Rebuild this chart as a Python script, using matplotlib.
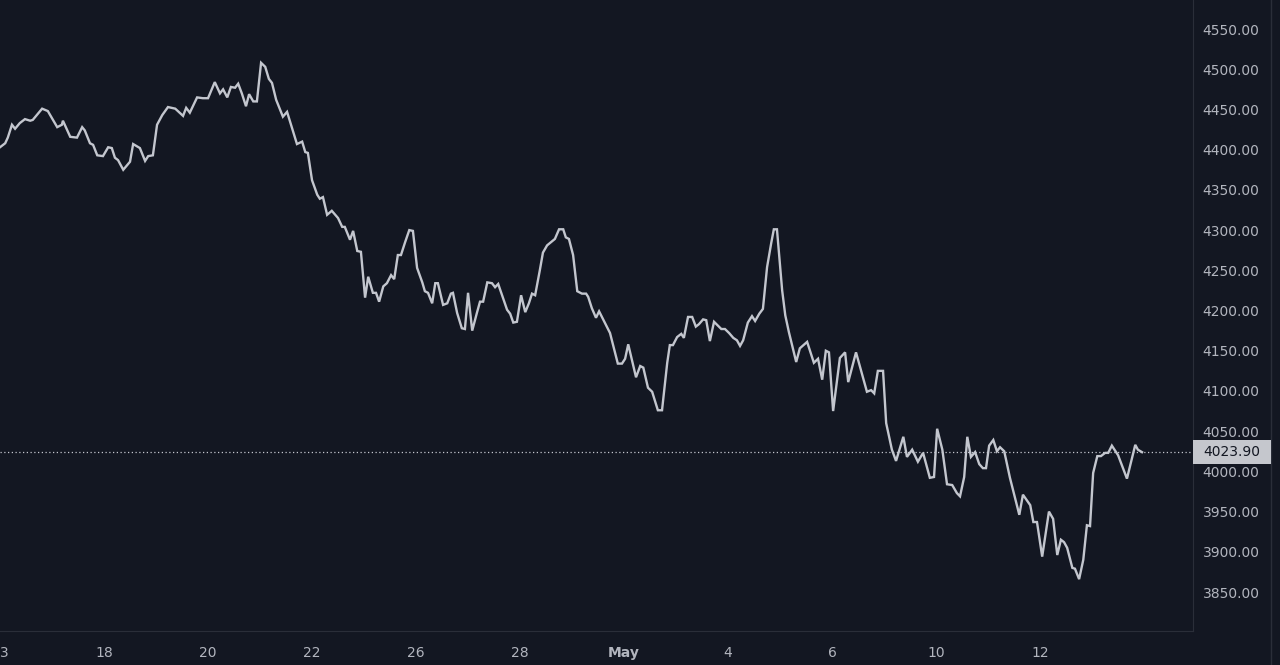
import matplotlib
matplotlib.use("Agg")
import matplotlib.pyplot as plt
from matplotlib.patches import Rectangle
from matplotlib.lines import Line2D

# Price series (trading-day position, price). Day 0 = Apr 13.
day = [
    0.00, 0.10, 0.15, 0.23, 0.29, 0.38, 0.48, 0.58, 0.63, 0.81, 0.92, 1.10, 1.19, 1.21, 1.35, 1.48,
    1.58, 1.63, 1.73, 1.79, 1.87, 1.98, 2.08, 2.15, 2.21, 2.27, 2.37, 2.50, 2.56, 2.69, 2.79, 2.85,
    2.94, 3.02, 3.12, 3.23, 3.37, 3.42, 3.52, 3.58, 3.65, 3.79, 3.90, 4.00, 4.13, 4.23, 4.29, 4.37,
    4.44, 4.52, 4.58, 4.65, 4.73, 4.79, 4.87, 4.94, 5.02, 5.10, 5.17, 5.23, 5.31, 5.44, 5.52, 5.63,
    5.71, 5.81, 5.87, 5.92, 6.00, 6.10, 6.15, 6.21, 6.29, 6.38, 6.50, 6.58, 6.63, 6.73, 6.79, 6.87,
    6.94, 7.02, 7.08, 7.17, 7.23, 7.29, 7.37, 7.44, 7.52, 7.58, 7.65, 7.71, 7.79, 7.87, 7.94, 8.02,
    8.12, 8.17, 8.23, 8.31, 8.37, 8.42, 8.52, 8.60, 8.67, 8.71, 8.79, 8.88, 8.94, 9.00, 9.08, 9.17,
    9.23, 9.29, 9.37, 9.46, 9.52, 9.58, 9.75, 9.81, 9.87, 9.94, 10.02, 10.10, 10.17, 10.23, 10.29,
    10.38, 10.44, 10.52, 10.67, 10.75, 10.83, 10.88, 10.94, 11.02, 11.10, 11.19, 11.27, 11.31, 11.38,
    11.46, 11.52, 11.73, 11.88, 11.96, 12.02, 12.08, 12.23, 12.31, 12.37, 12.46, 12.54, 12.65, 12.73,
    12.83, 12.88, 12.94, 13.02, 13.10, 13.15, 13.23, 13.31, 13.38, 13.44, 13.52, 13.58, 13.65, 13.73,
    13.87, 13.94, 14.02, 14.10, 14.17, 14.23, 14.29, 14.38, 14.46, 14.52, 14.60, 14.67, 14.75, 14.83,
    14.88, 14.94, 15.04, 15.10, 15.17, 15.31, 15.38, 15.52, 15.65, 15.73, 15.81, 15.88, 15.94, 16.02,
    16.15, 16.25, 16.31, 16.46, 16.67, 16.75, 16.81, 16.88, 16.98, 17.04, 17.15, 17.23, 17.37, 17.44,
    17.54, 17.65, 17.75, 17.88, 17.96, 18.02, 18.12, 18.21, 18.31, 18.40, 18.46, 18.54, 18.60, 18.67,
    18.75, 18.83, 18.90, 18.96, 19.02, 19.10, 19.17, 19.23, 19.31, 19.42, 19.60, 19.67, 19.81, 19.87,
    19.94, 20.04, 20.17, 20.25, 20.33, 20.40, 20.46, 20.52, 20.62, 20.67, 20.75, 20.83, 20.90, 20.96,
    21.02, 21.10, 21.17, 21.25, 21.31, 21.38, 21.50, 21.67, 21.83, 21.88, 21.96,
]
price = [
    4403, 4408, 4415, 4431, 4426, 4433, 4438, 4436, 4437, 4451, 4448, 4428, 4431, 4436, 4416, 4415,
    4428, 4424, 4408, 4406, 4393, 4392, 4403, 4402, 4390, 4387, 4375, 4385, 4407, 4402, 4386, 4392,
    4393, 4431, 4443, 4453, 4451, 4448, 4442, 4452, 4446, 4465, 4464, 4464, 4484, 4470, 4475, 4465,
    4478, 4477, 4482, 4470, 4454, 4469, 4460, 4460, 4508, 4503, 4488, 4483, 4462, 4441, 4447, 4424,
    4407, 4410, 4397, 4396, 4362, 4344, 4339, 4341, 4319, 4324, 4315, 4304, 4304, 4288, 4299, 4274,
    4273, 4216, 4242, 4222, 4222, 4211, 4230, 4234, 4244, 4239, 4269, 4269, 4285, 4300, 4299, 4253,
    4235, 4224, 4222, 4209, 4234, 4234, 4207, 4209, 4221, 4222, 4197, 4178, 4177, 4222, 4175, 4197,
    4211, 4211, 4235, 4234, 4229, 4233, 4201, 4196, 4185, 4186, 4219, 4198, 4209, 4221, 4219,
    4250, 4272, 4281, 4289, 4301, 4301, 4291, 4289, 4269, 4224, 4221, 4221, 4217, 4203,
    4191, 4199, 4172, 4134, 4134, 4140, 4158, 4117, 4131, 4129, 4104, 4099, 4076, 4076,
    4135, 4157, 4157, 4167, 4171, 4166, 4192, 4192, 4180, 4183, 4189, 4188, 4162, 4186,
    4177, 4177, 4172, 4166, 4163, 4156, 4163, 4185, 4193, 4187, 4196, 4202, 4254, 4284,
    4301, 4301, 4225, 4194, 4173, 4136, 4153, 4161, 4135, 4140, 4114, 4150, 4148, 4075,
    4141, 4148, 4111, 4148, 4099, 4101, 4097, 4125, 4125, 4060, 4027, 4013, 4043, 4018,
    4027, 4012, 4023, 3992, 3993, 4053, 4027, 3984, 3983, 3973, 3969, 3993, 4043, 4018,
    4024, 4009, 4004, 4004, 4032, 4039, 4025, 4030, 4025, 3992, 3946, 3971, 3958, 3937,
    3937, 3894, 3950, 3941, 3896, 3915, 3912, 3905, 3880, 3879, 3866, 3890, 3933, 3932,
    3998, 4019, 4019, 4023, 4023, 4032, 4020, 3991, 4033, 4027, 4023.9,
]
last_price = 4023.90

tick_days = [0, 2, 4, 6, 8, 10, 12, 14, 16, 18, 20]
tick_labels = ["13", "18", "20", "22", "26", "28", "May", "4", "6", "10", "12"]
price_ticks = [3850, 3900, 3950, 4000, 4050, 4100, 4150, 4200, 4250, 4300,
               4350, 4400, 4450, 4500, 4550]

BG = "#131722"
GRID = "#2a2e39"
TEXT = "#b2b5be"
LINE = "#c3c6ce"

fig = plt.figure(figsize=(12.8, 6.65), dpi=100, facecolor=BG)
ax = fig.add_axes([0.0, 0.0511, 1193 / 1280, 1 - 0.0511])
ax.set_facecolor(BG)

ax.plot(day, price, color=LINE, linewidth=1.7, solid_joinstyle="miter")
ax.axhline(last_price, color=LINE, linewidth=0.9, linestyle=(0, (1, 2)))

ax.set_xlim(0, 22.94)
ax.set_ylim(3801.5, 4586.1)

ax.yaxis.tick_right()
ax.set_yticks(price_ticks)
ax.set_yticklabels([f"{p:.2f}" for p in price_ticks])
ax.set_xticks(tick_days)
ax.set_xticklabels(tick_labels)
ax.tick_params(axis="y", length=0, pad=7, labelsize=10, labelcolor=TEXT)
ax.tick_params(axis="x", length=0, pad=11, labelsize=10, labelcolor=TEXT)
for lbl in ax.get_xticklabels():
    if lbl.get_text() == "May":
        lbl.set_fontweight("bold")

for side in ["top", "left"]:
    ax.spines[side].set_visible(False)
ax.spines["right"].set_color(GRID)
ax.spines["bottom"].set_color(GRID)

# last price tag on the price scale
fig.add_artist(Rectangle((1193 / 1280, 1 - 464 / 665), 78 / 1280, 24 / 665,
                         transform=fig.transFigure, facecolor="#c5c7cd",
                         edgecolor="none", zorder=5))
fig.text(1232 / 1280, 1 - 452 / 665, f"{last_price:.2f}", color="#131722",
         fontsize=10, ha="center", va="center", zorder=6)
# outer border of the price scale panel
fig.add_artist(Line2D([1271 / 1280, 1271 / 1280], [0, 1], transform=fig.transFigure,
                      color=GRID, linewidth=1))

fig.savefig("out.png", dpi=100, facecolor=BG)
